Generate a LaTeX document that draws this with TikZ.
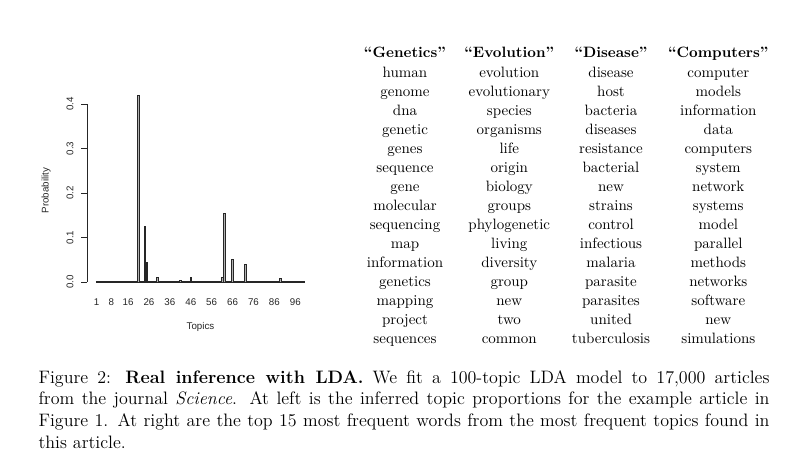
\documentclass[tikz,border=0pt]{standalone}
\usepackage{fontspec}
\newfontfamily\plotfont{Liberation Sans}
\begin{document}
\begin{tikzpicture}[x=0.6667pt,y=-0.6667pt,
  bar/.style={fill=gray!60, draw=black!85, line width=0.35pt},
  axline/.style={line width=0.5pt, draw=black!85},
  axlab/.style={font=\plotfont\fontsize{6.5}{7}\selectfont, inner sep=0pt, text=black!85},
  word/.style={anchor=base, inner sep=0pt, font=\fontsize{10}{12}\selectfont},
  head/.style={word, font=\fontsize{10}{12}\selectfont\bfseries},
  capline/.style={anchor=base west, inner sep=0pt, font=\fontsize{12}{14.5}\selectfont}]
\useasboundingbox (0,0) rectangle (791,458);

% ---------- bar chart ----------
\draw[line width=0.9pt, black!85] (95.8,282) -- (304.5,282);
\foreach \t/\v in {21/0.42,24/0.126,25/0.044,30/0.011,36/0.001,41/0.005,46/0.010,51/0.002,61/0.011,62/0.155,66/0.050,72/0.040,89/0.0075}{
  \draw[bar] ({96.7+(\t-1)*2.09-0.9},282) rectangle ({96.7+(\t-1)*2.09+0.9},{282-\v*445});
}
\draw[axline] (87.3,282) -- (87.3,104);
\foreach \k/\lab in {0/0.0,1/0.1,2/0.2,3/0.3,4/0.4}{
  \draw[axline] (81.3,{282-\k*44.5}) -- (87.3,{282-\k*44.5});
  \node[axlab, rotate=90] (yt\k) at (70,{282-\k*44.5}) {\lab};
}
\node[axlab, rotate=90] (ylab) at (46,190.5) {Probability};
\foreach \t [count=\i] in {1,8,16,26,36,46,56,66,76,86,96}{
  \node[axlab] (xt\i) at ({96.7+(\t-1)*2.09},302.2) {\t};
}
\node[axlab] (xlab) at (200.5,326.7) {Topics};

% ---------- topic table ----------
\node[head] (hg) at (405,57.5) {``Genetics''};
\node[head] (he) at (509.3,57.5) {``Evolution''};
\node[head] (hd) at (611,57.5) {``Disease''};
\node[head] (hc) at (718.3,57.5) {``Computers''};
\foreach \w [count=\i] in {human,genome,dna,genetic,genes,sequence,gene,molecular,sequencing,map,information,genetics,mapping,project,sequences}{
  \node[word] (g\i) at (405,{77.3+(\i-1)*19}) {\w};
}
\foreach \w [count=\i] in {evolution,evolutionary,species,organisms,life,origin,biology,groups,phylogenetic,living,diversity,group,new,two,common}{
  \node[word] (e\i) at (509.3,{77.3+(\i-1)*19}) {\w};
}
\foreach \w [count=\i] in {disease,host,bacteria,diseases,resistance,bacterial,new,strains,control,infectious,malaria,parasite,parasites,united,tuberculosis}{
  \node[word] (d\i) at (611,{77.3+(\i-1)*19}) {\w};
}
\foreach \w [count=\i] in {computer,models,information,data,computers,system,network,systems,model,parallel,methods,networks,software,new,simulations}{
  \node[word] (c\i) at (718.3,{77.3+(\i-1)*19}) {\w};
}

% ---------- caption ----------
\node[capline] (cap1) at (38.3,383) {\makebox[487.3pt][s]{Figure 2: \textbf{Real inference with LDA.} We fit a 100-topic LDA model to 17,000 articles}};
\node[capline] (cap2) at (38.3,404.7) {\makebox[487.3pt][s]{from the journal \textit{Science}. At left is the inferred topic proportions for the example article in}};
\node[capline] (cap3) at (38.3,426.4) {\makebox[487.3pt][s]{Figure 1. At right are the top 15 most frequent words from the most frequent topics found in}};
\node[capline] (cap4) at (38.3,448.1) {this article.};
\end{tikzpicture}
\end{document}
